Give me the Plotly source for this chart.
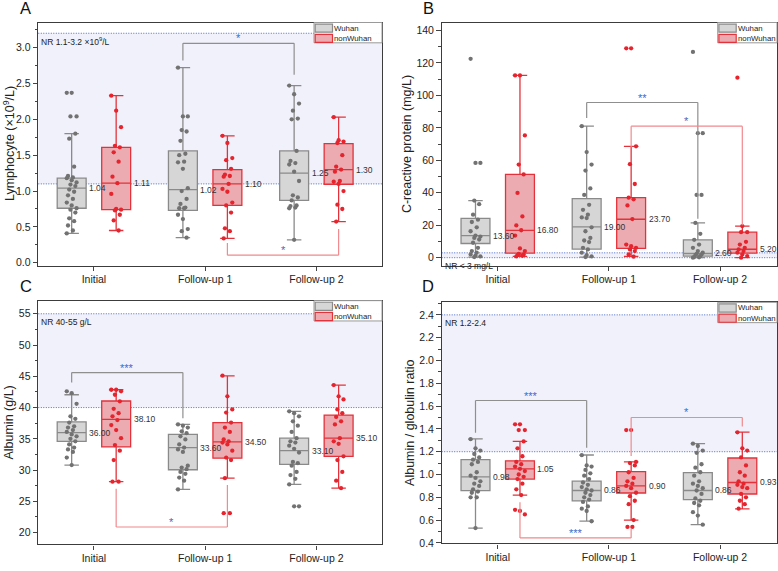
import plotly.graph_objects as go

W, H = 778, 571
categories = ["Initial", "Follow-up 1", "Follow-up 2"]
series_names = ["Wuhan", "nonWuhan"]

# ---------------- data ----------------
# box statistics per time point: (lower whisker, Q1, median, Q3, upper whisker)
lym_wuhan_stats = [(0.41, 0.76, 1.04, 1.18, 1.80), (0.35, 0.73, 1.02, 1.56, 2.72), (0.32, 0.87, 1.25, 1.56, 2.47)]
lym_non_stats = [(0.45, 0.74, 1.11, 1.61, 2.33), (0.34, 0.80, 1.10, 1.30, 1.77), (0.575, 1.095, 1.30, 1.66, 2.03)]
lym_wuhan_pts = [
    [2.37, 2.37, 2.04, 2.04, 1.80, 1.73, 1.34, 1.21, 1.19, 1.18, 1.15, 1.12, 1.09, 1.07, 1.02, 0.99, 0.94, 0.89, 0.84, 0.80, 0.76, 0.74, 0.70, 0.62, 0.58, 0.52, 0.45, 0.41],
    [2.72, 2.04, 2.04, 1.85, 1.83, 1.70, 1.52, 1.50, 1.41, 1.40, 1.31, 1.04, 1.00, 0.89, 0.82, 0.77, 0.76, 0.76, 0.67, 0.61, 0.47, 0.44, 0.35],
    [2.47, 2.35, 2.22, 2.12, 2.01, 2.00, 1.56, 1.42, 1.39, 1.37, 1.27, 1.14, 0.94, 0.91, 0.87, 0.80, 0.79, 0.77, 0.76, 0.32],
]
lym_non_pts = [
    [2.33, 2.12, 1.89, 1.63, 1.61, 1.54, 1.41, 1.20, 1.11, 0.96, 0.75, 0.74, 0.73, 0.67, 0.59, 0.45],
    [1.77, 1.67, 1.46, 1.43, 1.31, 1.23, 1.21, 1.20, 1.10, 1.03, 0.99, 0.84, 0.80, 0.70, 0.48, 0.44, 0.34],
    [2.03, 1.71, 1.69, 1.67, 1.50, 1.34, 1.30, 1.27, 1.14, 1.13, 1.10, 1.00, 0.81, 0.75, 0.575],
]

crp_wuhan_stats = [(0.4, 8.75, 13.6, 24.2, 35.2), (0.4, 5.3, 19.0, 36.4, 81.0), (0.0, 1.0, 2.6, 11.0, 21.4)]
crp_non_stats = [(0.8, 2.85, 16.8, 51.3, 112.3), (0.8, 5.7, 23.7, 37.0, 68.6), (0.0, 2.85, 5.2, 15.7, 19.5)]
crp_wuhan_pts = [
    [122.5, 58.4, 58.4, 35.2, 33.0, 26.5, 23.4, 22.0, 18.7, 16.3, 13.6, 13.0, 12.2, 11.2, 9.2, 6.1, 4.1, 3.1, 2.0, 1.2, 0.8, 0.4],
    [81.0, 65.1, 57.4, 53.7, 42.7, 38.7, 32.6, 29.5, 26.5, 24.8, 24.4, 18.7, 16.3, 12.2, 10.6, 9.6, 6.1, 5.1, 3.1, 1.6, 0.8, 0.4],
    [126.8, 76.7, 76.7, 38.7, 38.7, 21.4, 14.7, 11.0, 8.1, 6.1, 4.1, 3.1, 2.4, 2.0, 1.6, 1.0, 0.4, 0.2, 0.0],
]
crp_non_pts = [
    [112.3, 112.3, 75.3, 57.4, 51.3, 39.9, 25.4, 19.9, 16.9, 13.6, 5.7, 4.1, 2.4, 2.0, 1.6, 1.2, 0.8],
    [129.0, 129.0, 68.6, 57.6, 45.4, 37.0, 36.0, 32.2, 23.8, 8.1, 7.1, 6.1, 5.1, 4.1, 2.0, 0.6],
    [110.9, 19.5, 15.7, 15.7, 9.8, 8.1, 6.1, 5.1, 4.1, 3.1, 2.0, 1.0, 0.0],
]

alb_wuhan_stats = [(30.8, 34.6, 36.0, 37.7, 42.05), (26.9, 30.05, 33.6, 35.7, 37.3), (27.7, 30.9, 33.1, 35.1, 39.4)]
alb_non_stats = [(28.15, 33.7, 38.1, 41.05, 42.85), (28.7, 31.9, 34.5, 37.6, 45.07), (27.1, 32.2, 35.1, 38.8, 43.6)]
alb_wuhan_pts = [
    [42.6, 42.3, 40.6, 38.6, 38.2, 37.6, 37.0, 36.8, 36.4, 36.1, 35.7, 35.4, 35.0, 34.6, 34.1, 33.6, 33.3, 32.9, 32.0, 30.8],
    [37.3, 37.1, 36.8, 36.2, 35.9, 35.4, 34.9, 34.1, 33.6, 33.3, 32.9, 30.7, 30.4, 30.15, 29.7, 29.4, 28.8, 28.3, 26.9],
    [39.4, 39.1, 38.6, 37.8, 37.1, 36.1, 35.1, 34.6, 34.4, 33.9, 33.4, 32.8, 31.3, 31.1, 30.7, 29.7, 29.2, 28.6, 27.7, 24.2, 24.2],
]
alb_non_pts = [
    [42.85, 42.85, 42.6, 42.05, 41.0, 39.8, 39.1, 38.6, 38.0, 37.2, 36.4, 35.1, 34.0, 33.1, 31.6, 28.15, 28.15],
    [45.1, 41.8, 39.7, 39.2, 37.6, 36.8, 36.1, 34.9, 34.6, 34.4, 34.1, 33.1, 32.0, 31.6, 28.7, 23.1, 23.1],
    [43.6, 41.8, 41.3, 39.7, 39.1, 38.5, 37.8, 37.3, 35.1, 34.6, 34.2, 32.2, 31.6, 29.7, 28.3, 27.1],
]

ag_wuhan_stats = [(0.53, 0.858, 0.98, 1.13, 1.313), (0.591, 0.768, 0.86, 0.942, 1.171), (0.56, 0.78, 0.86, 1.017, 1.27)]
ag_non_stats = [(0.82, 0.96, 1.05, 1.12, 1.29), (0.60, 0.838, 0.90, 1.026, 1.11), (0.699, 0.829, 0.93, 1.145, 1.371)]
ag_wuhan_pts = [
    [1.31, 1.23, 1.21, 1.18, 1.15, 1.13, 1.11, 1.09, 1.02, 0.99, 0.97, 0.94, 0.92, 0.90, 0.87, 0.85, 0.84, 0.80, 0.80, 0.53],
    [1.17, 1.08, 1.07, 1.04, 1.01, 0.99, 0.96, 0.93, 0.91, 0.89, 0.87, 0.86, 0.84, 0.82, 0.80, 0.78, 0.76, 0.72, 0.70, 0.68, 0.59],
    [1.27, 1.25, 1.21, 1.19, 1.09, 1.06, 1.02, 0.99, 0.94, 0.92, 0.90, 0.88, 0.86, 0.83, 0.79, 0.77, 0.75, 0.73, 0.67, 0.64, 0.56],
]
ag_non_pts = [
    [1.44, 1.44, 1.39, 1.39, 1.29, 1.23, 1.16, 1.11, 1.09, 1.07, 1.05, 1.03, 1.00, 0.98, 0.96, 0.92, 0.87, 0.82, 0.69, 0.68, 0.65],
    [1.39, 1.39, 1.11, 1.10, 1.08, 1.02, 0.97, 0.94, 0.92, 0.90, 0.88, 0.84, 0.81, 0.77, 0.74, 0.60, 0.54, 0.54],
    [1.37, 1.23, 1.21, 1.15, 1.08, 1.02, 0.99, 0.94, 0.92, 0.91, 0.89, 0.88, 0.83, 0.80, 0.77, 0.74, 0.70],
]

# significance brackets: (series, from time index, to time index, bar level, left end, right end, label)
lym_brackets = [("Wuhan", 1, 2, 3.06, 2.82, 2.62, "*"), ("nonWuhan", 1, 2, 0.106, 0.276, 0.47, "*")]
crp_brackets = [("Wuhan", 1, 2, 95.6, 86.0, 24.0, "**"), ("nonWuhan", 1, 2, 81.0, 68.0, 20.0, "*")]
alb_brackets = [("Wuhan", 0, 1, 45.6, 44.0, 38.3, "***"), ("nonWuhan", 0, 1, 20.9, 27.0, 27.6, "*")]
ag_brackets = [("Wuhan", 0, 1, 1.649, 1.366, 1.235, "***"), ("nonWuhan", 1, 2, 1.50, 1.163, 1.42, "*"),
               ("nonWuhan", 0, 1, 0.444, 0.757, 0.525, "***")]

# ---------------- styling ----------------
FONT = "Liberation Sans, Arial, sans-serif"
STYLE = {
    "Wuhan": dict(fill="#d6d6d6", line="#8a8a8a", pt="#727272", offset=-0.2, br="#8f8f8f"),
    "nonWuhan": dict(fill="#ebabb0", line="#e3323b", pt="#e5242e", offset=0.2, br="#f08a8e"),
}
BOXW = 0.26

panels = [
    dict(letter="A", stats=(lym_wuhan_stats, lym_non_stats), pts=(lym_wuhan_pts, lym_non_pts),
         title="Lymphocyte (×10<sup>9</sup>/L)", yrange=[-0.04, 3.35], tick0=0, dtick=0.5, minor=0.25, fmt=".1f",
         nr=(1.1, 3.2), nr_text="NR 1.1-3.2 ×10<sup>9</sup>/L", nr_top=True, brackets=lym_brackets,
         box=(38.3, 22.7, 382.0, 268.0), xrange=[-0.5, 2.59], legw=68, title_x=9, letter_xy=(26, 0)),
    dict(letter="B", stats=(crp_wuhan_stats, crp_non_stats), pts=(crp_wuhan_pts, crp_non_pts),
         title="C-reactive protein (mg/L)", yrange=[-4.9, 144.9], tick0=0, dtick=20, minor=10, fmt="d",
         nr=(0, 3), nr_text="NR &lt; 3 mg/L", nr_top=False, brackets=crp_brackets,
         box=(441.7, 22.7, 777.0, 268.0), xrange=[-0.504, 2.512], legw=59.3, title_x=407, letter_xy=(429, 0)),
    dict(letter="C", stats=(alb_wuhan_stats, alb_non_stats), pts=(alb_wuhan_pts, alb_non_pts),
         title="Albumin (g/L)", yrange=[18.1, 57.1], tick0=20, dtick=5, minor=2.5, fmt="d",
         nr=(40, 55), nr_text="NR 40-55 g/L", nr_top=True, brackets=alb_brackets,
         box=(38.3, 303.3, 382.0, 549.3), xrange=[-0.5, 2.59], legw=68, title_x=9, letter_xy=(26, 280)),
    dict(letter="D", stats=(ag_wuhan_stats, ag_non_stats), pts=(ag_wuhan_pts, ag_non_pts),
         title="Albumin / globulin ratio", yrange=[0.395, 2.51], tick0=0.4, dtick=0.2, minor=0.1, fmt=".1f",
         nr=(1.2, 2.4), nr_text="NR 1.2-2.4", nr_top=True, brackets=ag_brackets,
         box=(441.7, 305.0, 777.0, 548.3), xrange=[-0.504, 2.512], legw=59.3, title_x=410, letter_xy=(428, 280)),
]


def jitter(k):
    return (((k * 4) % 9) - 4) * 0.011


fig = go.Figure()
shapes, annos = [], []
layout = dict(width=W, height=H, margin=dict(l=0, r=0, t=0, b=0), paper_bgcolor="white",
              plot_bgcolor="white", showlegend=False, font=dict(family=FONT, color="#222"))

for i, p in enumerate(panels, start=1):
    xs = "x" if i == 1 else f"x{i}"
    ys = "y" if i == 1 else f"y{i}"
    L, T, R, B = p["box"]
    xd = [L / W, R / W]
    yd = [1 - B / H, 1 - T / H]
    layout["xaxis" if i == 1 else f"xaxis{i}"] = dict(
        domain=xd, range=p["xrange"], anchor=ys, tickvals=[0, 1, 2], ticktext=categories,
        ticks="outside", ticklen=4, tickwidth=1, tickcolor="#444", showline=True, linecolor="#3c3c3c",
        linewidth=1.3, mirror=True, showgrid=False, zeroline=False,
        tickfont=dict(size=10.5, color="#222", family=FONT))
    layout["yaxis" if i == 1 else f"yaxis{i}"] = dict(
        domain=yd, range=p["yrange"], anchor=xs, tick0=p["tick0"], dtick=p["dtick"], tickformat=p["fmt"],
        ticks="outside", ticklen=4.5, tickwidth=1, tickcolor="#444", showline=True, linecolor="#3c3c3c",
        linewidth=1.3, mirror=True, showgrid=False, zeroline=False,
        minor=dict(dtick=p["minor"], tick0=p["tick0"], ticks="outside", ticklen=2.5, tickcolor="#444", showgrid=False),
        tickfont=dict(size=10.5, color="#222", family=FONT))

    # normal-range band
    lo, hi = p["nr"]
    shapes.append(dict(type="rect", xref=f"{xs} domain", yref=ys, x0=0, x1=1, y0=lo, y1=hi,
                       fillcolor="rgba(215,215,245,0.36)", line=dict(width=0), layer="below"))
    for yv in (lo, hi):
        shapes.append(dict(type="line", xref=f"{xs} domain", yref=ys, x0=0, x1=1, y0=yv, y1=yv,
                           line=dict(color="#4a6cc8", width=1, dash="1px,1.5px"), layer="below"))
    annos.append(dict(xref=f"{xs} domain", yref=ys, x=0, y=hi if p["nr_top"] else lo, xanchor="left",
                      yanchor="top", xshift=1, yshift=-1, text=p["nr_text"], showarrow=False,
                      font=dict(size=8.5, color="#222", family=FONT)))

    # boxes, points, median labels
    for s_idx, name in enumerate(series_names):
        st = STYLE[name]
        stats = p["stats"][s_idx]
        pos = [g + st["offset"] for g in range(3)]
        fig.add_trace(go.Box(
            x=pos, lowerfence=[s[0] for s in stats], q1=[s[1] for s in stats], median=[s[2] for s in stats],
            q3=[s[3] for s in stats], upperfence=[s[4] for s in stats], width=BOXW, boxpoints=False,
            fillcolor=st["fill"], line=dict(color=st["line"], width=1.3), whiskerwidth=0.5,
            name=name, xaxis=xs, yaxis=ys, hoverinfo="skip"))
        px_list, py_list = [], []
        for g, vals in enumerate(p["pts"][s_idx]):
            for k, v in enumerate(vals):
                px_list.append(pos[g] + jitter(k))
                py_list.append(v)
        fig.add_trace(go.Scatter(x=px_list, y=py_list, mode="markers", xaxis=xs, yaxis=ys, name=name,
                                 marker=dict(color=st["pt"], size=4.3, symbol="circle"), hoverinfo="skip"))
        for g in range(3):
            annos.append(dict(xref=xs, yref=ys, x=pos[g] + BOXW / 2, y=stats[g][2], xanchor="left",
                              yanchor="middle", xshift=1, text=f"{stats[g][2]:.2f}", showarrow=False,
                              font=dict(size=8.5, color="#333", family=FONT)))

    # significance brackets
    for (name, g0, g1, ybar, yl, yr, lab) in p["brackets"]:
        st = STYLE[name]
        x0 = g0 + st["offset"]
        x1 = g1 + st["offset"]
        for (xa, ya, xb, yb) in ((x0, yl, x0, ybar), (x0, ybar, x1, ybar), (x1, ybar, x1, yr)):
            shapes.append(dict(type="line", xref=xs, yref=ys, x0=xa, y0=ya, x1=xb, y1=yb,
                               line=dict(color=st["br"], width=1.2)))
        annos.append(dict(xref=xs, yref=ys, x=(x0 + x1) / 2, y=ybar, xanchor="center", yanchor="middle",
                          yshift=5, text=lab, showarrow=False, font=dict(size=11, color="#3b6cc5", family=FONT)))

    # legend (drawn inside the plot, top-right)
    lx = R - p["legw"]
    shapes.append(dict(type="rect", xref="paper", yref="paper", x0=lx / W, x1=R / W, y0=1 - (T + 20.5) / H,
                       y1=1 - T / H, fillcolor="rgba(255,255,255,0.95)", line=dict(color="#9a9a9a", width=1)))
    for j, name in enumerate(series_names):
        st = STYLE[name]
        top = T + 1.6 + j * 10.3
        shapes.append(dict(type="rect", xref="paper", yref="paper", x0=(lx + 1.2) / W, x1=(lx + 18.5) / W,
                           y0=1 - (top + 8.2) / H, y1=1 - top / H, fillcolor=st["fill"],
                           line=dict(color=st["line"], width=1.2)))
        annos.append(dict(xref="paper", yref="paper", x=(lx + 19.3) / W, y=1 - (top + 4.1) / H, xanchor="left",
                          yanchor="middle", text=name, showarrow=False, borderpad=0,
                          font=dict(size=7.8, color="#222", family=FONT)))

    # y-axis title
    annos.append(dict(xref="paper", yref="paper", x=p["title_x"] / W, y=(yd[0] + yd[1]) / 2, xanchor="center",
                      yanchor="middle", textangle=-90, text=p["title"], showarrow=False, borderpad=0,
                      font=dict(size=12.5, color="#222", family=FONT)))
    # panel letter
    lxp, lyp = p["letter_xy"]
    annos.append(dict(xref="paper", yref="paper", x=lxp / W, y=1 - lyp / H, xanchor="center", yanchor="top",
                      yshift=2, text=p["letter"], showarrow=False, borderpad=0,
                      font=dict(size=16.5, color="#111", family=FONT)))

layout["shapes"] = shapes
layout["annotations"] = annos
fig.update_layout(**layout)
# remove the browser's default page margin so the 778x571 figure fills the window exactly
fig.write_html("out.html", config={"displayModeBar": False},
               post_script="document.body.style.margin='0';")
